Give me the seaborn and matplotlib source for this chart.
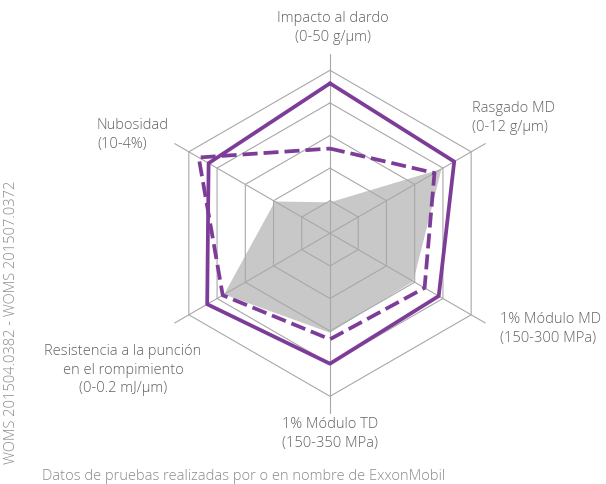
import numpy as np
import pandas as pd
import matplotlib
matplotlib.use("Agg")
import matplotlib.pyplot as plt
import seaborn as sns

# ejes del radar (en sentido horario desde arriba)
ejes = ["Impacto al dardo", "Rasgado MD", "1% Módulo MD",
        "1% Módulo TD", "Resistencia a la punción", "Nubosidad"]
# valores normalizados (0 = centro, 1 = hexágono exterior)
serie_solida = [0.92, 0.88, 0.77, 0.80, 0.87, 0.86]
serie_discontinua = [0.52, 0.74, 0.67, 0.65, 0.76, 0.93]
serie_gris = [0.19, 0.79, 0.59, 0.61, 0.75, 0.39]
anillos = [0.2, 0.4, 0.6, 0.8, 1.0]

PURPURA = "#7d3c98"
GRIS_TEXTO = "#626262"

W, H = 606, 484
CX, CY, R = 330, 233.3, 163.0  # centro y radio en pixeles


def a_xy(valores):
    ang = np.deg2rad(np.arange(len(valores)) * 60.0)
    v = np.asarray(valores, dtype=float)
    x = v * np.sin(ang)
    y = v * np.cos(ang)
    return np.append(x, x[0]), np.append(y, y[0])


sns.set_theme(style="white")
plt.rcParams["font.family"] = ["Open Sans", "DejaVu Sans"]

fig = plt.figure(figsize=(W / 100, H / 100), dpi=100)
ax = fig.add_axes([0, 0, 1, 1])

# relleno gris
gx, gy = a_xy(serie_gris)
ax.fill(gx, gy, color="#c8c8c8", lw=0, zorder=1)

# rejilla hexagonal
for r in anillos:
    hx, hy = a_xy([r] * 6)
    ax.plot(hx, hy, color="#a8a8a8", lw=0.8, zorder=2)
for k in range(6):
    sx, sy = a_xy([1.1] * 6)
    ax.plot([0, sx[k]], [0, sy[k]], color="#a8a8a8", lw=0.8, zorder=2)

# series
sx, sy = a_xy(serie_solida)
df_sol = pd.DataFrame({"x": sx, "y": sy})
sns.lineplot(data=df_sol, x="x", y="y", sort=False, color=PURPURA,
             lw=2.7, ax=ax, zorder=4, estimator=None)
dx, dy = a_xy(serie_discontinua)
df_dis = pd.DataFrame({"x": dx, "y": dy})
sns.lineplot(data=df_dis, x="x", y="y", sort=False, color=PURPURA,
             lw=2.7, ax=ax, zorder=4, estimator=None,
             linestyle=(0, (4, 1.6)))

ax.set_xlim(-CX / R, (W - CX) / R)
ax.set_ylim(-(H - CY) / R, CY / R)
ax.axis("off")

fs = 10.5
kw = dict(color=GRIS_TEXTO, fontsize=fs, linespacing=1.35, fontweight="light")
fig.text(333 / W, 1 - 28 / H, "Impacto al dardo\n(0-50 g/μm)",
         ha="center", va="center", **kw)
fig.text(472 / W, 1 - 118 / H, "Rasgado MD\n(0-12 g/μm)",
         ha="left", va="center", **kw)
fig.text(97 / W, 1 - 135 / H, "Nubosidad\n(10-4%)",
         ha="left", va="center", **kw)
fig.text(500 / W, 1 - 329 / H, "1% Módulo MD\n(150-300 MPa)",
         ha="left", va="center", **kw)
fig.text(123 / W, 1 - 370 / H,
         "Resistencia a la punción\nen el rompimiento\n(0-0.2 mJ/μm)",
         ha="center", va="center", multialignment="center", **kw)
fig.text(330 / W, 1 - 434 / H, "1% Módulo TD\n(150-350 MPa)",
         ha="center", va="center", multialignment="center", **kw)
fig.text(42 / W, 1 - 477 / H,
         "Datos de pruebas realizadas por o en nombre de ExxonMobil",
         ha="left", va="center", color="#8a8a8a", fontsize=10.5,
         fontweight="light")
fig.text(12 / W, 1 - 322 / H, "WOMS 201504.0382 - WOMS 201507.0372",
         ha="center", va="center", rotation=90, color="#8a8a8a", fontsize=10.5,
         fontweight="light")

fig.savefig("out.png", dpi=100)
